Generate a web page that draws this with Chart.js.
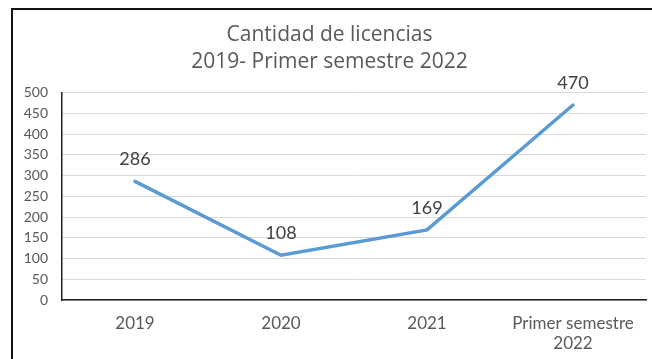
<!DOCTYPE html>
<html>
<head>
<meta charset="utf-8">
<script src="https://cdn.jsdelivr.net/npm/chart.js@4"></script>
<style>
  html, body { margin: 0; padding: 0; background: #fff; overflow: hidden; }
  body { width: 652px; height: 359px; position: relative; }
  #marco {
    position: absolute; left: 11px; top: 8px;
    width: 700px; height: 400px;
    border-left: 2px solid #111; border-top: 2px solid #111;
  }
  #grafico { position: absolute; left: 0; top: 0; }
</style>
</head>
<body>
<div id="marco"><canvas id="grafico" width="652" height="349"></canvas></div>
<script>
const periodos = ['2019', '2020', '2021', ['Primer semestre', '2022']]
const licencias = [286, 108, 169, 470]
const titulo = ['Cantidad de licencias', '2019- Primer semestre 2022']

const gris = '#595959'
const fuente = 'Lato, "Open Sans", sans-serif'

// etiquetas con el valor encima de cada punto
const etiquetasValor = {
    id: 'etiquetasValor',
    afterDatasetsDraw(chart) {
        const ctx = chart.ctx
        const meta = chart.getDatasetMeta(0)
        ctx.save()
        ctx.font = '18px ' + fuente
        ctx.fillStyle = '#404040'
        ctx.textAlign = 'center'
        ctx.textBaseline = 'middle'
        meta.data.forEach((pt, i) => {
            ctx.fillText(licencias[i], pt.x, pt.y - 22)
        })
        ctx.restore()
    }
}

new Chart(document.getElementById('grafico'), {
    type: 'line',
    data: {
        labels: periodos,
        datasets: [{
            label: 'Licencias',
            data: licencias,
            borderColor: '#5B9BD5',
            borderWidth: 3.5,
            pointRadius: 0,
            tension: 0,
            borderCapStyle: 'round'
        }]
    },
    options: {
        responsive: false,
        animation: false,
        layout: { padding: { left: 0, right: 19, top: 0, bottom: 0 } },
        plugins: {
            legend: { display: false },
            tooltip: { enabled: false },
            title: {
                display: true,
                text: titulo,
                color: gris,
                font: { family: '"Open Sans", sans-serif', size: 21, weight: 'normal', lineHeight: 1.3 },
                padding: { top: 11, bottom: 17 }
            }
        },
        scales: {
            x: {
                offset: true,
                grid: { display: false, drawTicks: false },
                border: { color: '#222', width: 1.5 },
                ticks: { color: gris, font: { family: fuente, size: 17, lineHeight: 1.2 }, padding: 13, maxRotation: 0 },
                afterFit: s => { s.height = 59 }
            },
            y: {
                min: 0,
                max: 500,
                ticks: { stepSize: 50, color: gris, font: { family: fuente, size: 14 }, padding: 14 },
                grid: { color: '#d9d9d9', drawTicks: false },
                border: { color: '#222', width: 1.5 },
                afterFit: s => { s.width = 49 }
            }
        }
    },
    plugins: [etiquetasValor]
})
</script>
</body>
</html>
